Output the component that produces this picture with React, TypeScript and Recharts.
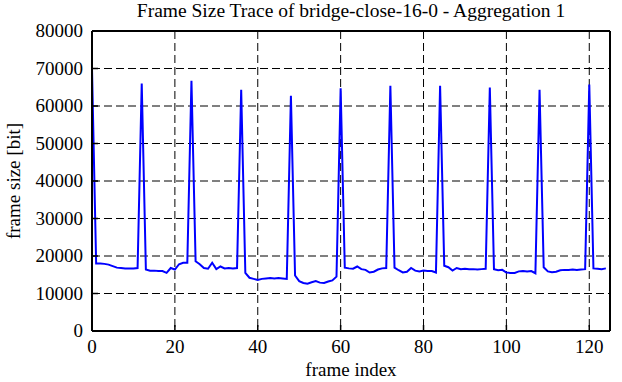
import { LineChart, Line, XAxis, YAxis, CartesianGrid } from "recharts";

const frameSizes = [
  70000, 18000, 18000, 17900, 17700, 17300, 16900, 16800, 16700, 16700,
  16700, 16800, 66000, 16400, 16100, 16100, 16000, 16000, 15500, 16800,
  16400, 17800, 18200, 18200, 66700, 18600, 17800, 16800, 16600, 18200,
  16500, 17200, 16700, 16800, 16700, 16800, 64300, 15500, 14200, 13900,
  13600, 13900, 14000, 14100, 14000, 14100, 14000, 13900, 62700, 14800,
  13300, 12800, 12600, 13000, 13300, 12900, 12800, 13200, 13500, 14500,
  64700, 16900, 16700, 16600, 17200, 16500, 16300, 15600, 15800, 16400,
  16700, 16800, 65400, 16900, 16200, 15600, 15800, 16800, 16100, 15900,
  16100, 16000, 16000, 15600, 65400, 17400, 17000, 16100, 16800, 16500,
  16600, 16500, 16500, 16400, 16500, 16600, 64900, 16500, 16200, 16300,
  15600, 15500, 15500, 15900, 16000, 15900, 16000, 15400, 64300, 17000,
  15900, 15700, 15800, 16200, 16300, 16300, 16400, 16300, 16400, 16500,
  65700, 16700, 16600, 16500, 16700,
];

const xTicks = [0, 20, 40, 60, 80, 100, 120];
const yTicks = [0, 10000, 20000, 30000, 40000, 50000, 60000, 70000, 80000];

const data = frameSizes.map((size, i) => ({ frame: i, size }));

const FONT = "Liberation Serif";
const W = 622;
const H = 382;

export default function App() {
  const axisLine = { stroke: "#000", strokeWidth: 2 };
  const tickLine = { stroke: "#000", strokeWidth: 1.5 };

  const xTick = (p: any) => (
    <text
      x={p.x}
      y={p.y + 14}
      textAnchor="middle"
      style={{ fontFamily: FONT, fontSize: 19 }}
      fill="#000"
    >
      {p.payload.value}
    </text>
  );
  const yTick = (p: any) => (
    <text
      x={p.x}
      y={p.y + 6}
      textAnchor="end"
      style={{ fontFamily: FONT, fontSize: 19 }}
      fill="#000"
    >
      {p.payload.value}
    </text>
  );

  return (
    <div
      style={{
        position: "absolute",
        left: 0,
        top: 0,
        width: W,
        height: H,
        background: "#fff",
        fontFamily: FONT,
      }}
    >
      <LineChart
        width={W}
        height={H}
        data={data}
        style={{ fontFamily: FONT }}
        margin={{ top: 30, right: 11, bottom: 21, left: 12 }}
      >
        <CartesianGrid stroke="#000" strokeDasharray="8 4" />
        <XAxis
          dataKey="frame"
          type="number"
          domain={[0, 125]}
          ticks={xTicks}
          height={30}
          tickSize={-6}
          tickMargin={14}
          tick={xTick}
          axisLine={axisLine}
          tickLine={tickLine}
        />
        <XAxis
          xAxisId="top"
          orientation="top"
          dataKey="frame"
          type="number"
          domain={[0, 125]}
          ticks={xTicks}
          height={1}
          tickSize={-6}
          tick={false}
          axisLine={axisLine}
          tickLine={tickLine}
        />
        <YAxis
          type="number"
          domain={[0, 80000]}
          ticks={yTicks}
          width={80}
          tickSize={-6}
          tickMargin={15}
          tick={yTick}
          axisLine={axisLine}
          tickLine={tickLine}
        />
        <YAxis
          yAxisId="right"
          orientation="right"
          type="number"
          domain={[0, 80000]}
          ticks={yTicks}
          width={1}
          tickSize={-6}
          tick={false}
          axisLine={axisLine}
          tickLine={tickLine}
        />
        <Line
          type="linear"
          dataKey="size"
          stroke="#0000ff"
          strokeWidth={2}
          dot={false}
          isAnimationActive={false}
        />
      </LineChart>
      <svg
        width={W}
        height={H}
        style={{ position: "absolute", left: 0, top: 0, pointerEvents: "none", fontFamily: FONT }}
      >
        <text x={351} y={17} textAnchor="middle" fontSize={19.5} fill="#000">
          Frame Size Trace of bridge-close-16-0 - Aggregation 1
        </text>
        <text x={351} y={376} textAnchor="middle" fontSize={19} fill="#000">
          frame index
        </text>
        <text
          x={0}
          y={0}
          transform="translate(20,181) rotate(-90)"
          textAnchor="middle"
          fontSize={19}
          fill="#000"
        >
          frame size [bit]
        </text>
      </svg>
    </div>
  );
}
